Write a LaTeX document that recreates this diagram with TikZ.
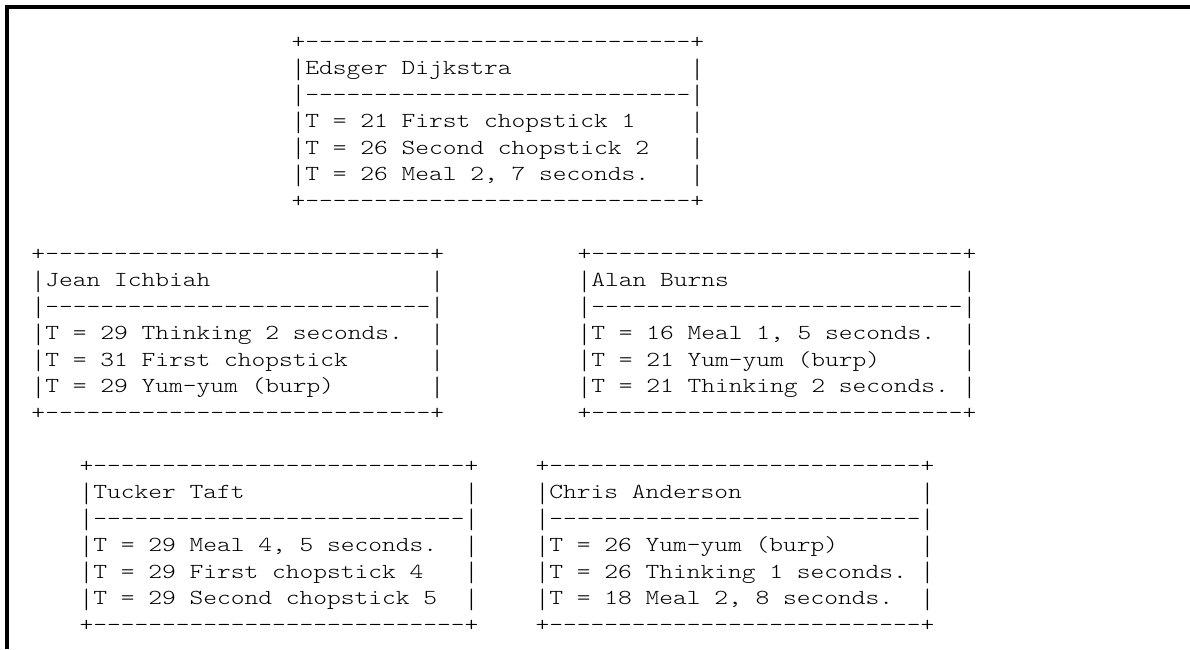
\documentclass[tikz,border=0pt]{standalone}
\usepackage{fontspec}
\setmonofont{lmmonolt10-regular.otf}[FakeStretch=1.224]
\newcommand\phildash{---------------------------}
\newcommand\philbar{\raisebox{-1.8pt}{\resizebox*{\fontcharwd\font`\0}{11pt}{|}}}
\newcommand\philrow[2]{\philbar\makebox[#1\fontcharwd\font`\0][l]{#2}\philbar}

\begin{document}
\begin{tikzpicture}[x=0.5pt, y=-0.5pt,
  philbox/.style={inner sep=0pt, anchor=base west,
    font=\ttfamily\frenchspacing\fontsize{10.7}{13.25}\selectfont}]
  \useasboundingbox (0,0) rectangle (1190,649);
  % Frame
  \draw[line width=2pt] (7,649) -- (7,7) -- (1190,7);

  % Nodes
  \node[philbox] (dijkstra) at (291.1,48) {\begin{tabular}[t]{@{}l@{}}
    +\phildash-+\\
    \philrow{28}{Edsger Dijkstra}\\
    \philbar\phildash-\philbar\\
    \philrow{28}{T = 21 First chopstick 1}\\
    \philrow{28}{T = 26 Second chopstick 2}\\
    \philrow{28}{T = 26 Meal 2, 7 seconds.}\\
    +\phildash-+
  \end{tabular}};
  \node[philbox] (ichbiah) at (31.1,260) {\begin{tabular}[t]{@{}l@{}}
    +\phildash-+\\
    \philrow{28}{Jean Ichbiah}\\
    \philbar\phildash-\philbar\\
    \philrow{28}{T = 29 Thinking 2 seconds.}\\
    \philrow{28}{T = 31 First chopstick}\\
    \philrow{28}{T = 29 Yum-yum (burp)}\\
    +\phildash-+
  \end{tabular}};
  \node[philbox] (burns) at (577.1,260) {\begin{tabular}[t]{@{}l@{}}
    +\phildash+\\
    \philrow{27}{Alan Burns}\\
    \philbar\phildash\philbar\\
    \philrow{27}{T = 16 Meal 1, 5 seconds.}\\
    \philrow{27}{T = 21 Yum-yum (burp)}\\
    \philrow{27}{T = 21 Thinking 2 seconds.}\\
    +\phildash+
  \end{tabular}};
  \node[philbox] (taft) at (79.1,472) {\begin{tabular}[t]{@{}l@{}}
    +\phildash+\\
    \philrow{27}{Tucker Taft}\\
    \philbar\phildash\philbar\\
    \philrow{27}{T = 29 Meal 4, 5 seconds.}\\
    \philrow{27}{T = 29 First chopstick 4}\\
    \philrow{27}{T = 29 Second chopstick 5}\\
    +\phildash+
  \end{tabular}};
  \node[philbox] (anderson) at (535.1,472) {\begin{tabular}[t]{@{}l@{}}
    +\phildash+\\
    \philrow{27}{Chris Anderson}\\
    \philbar\phildash\philbar\\
    \philrow{27}{T = 26 Yum-yum (burp)}\\
    \philrow{27}{T = 26 Thinking 1 seconds.}\\
    \philrow{27}{T = 18 Meal 2, 8 seconds.}\\
    +\phildash+
  \end{tabular}};
\end{tikzpicture}
\end{document}
